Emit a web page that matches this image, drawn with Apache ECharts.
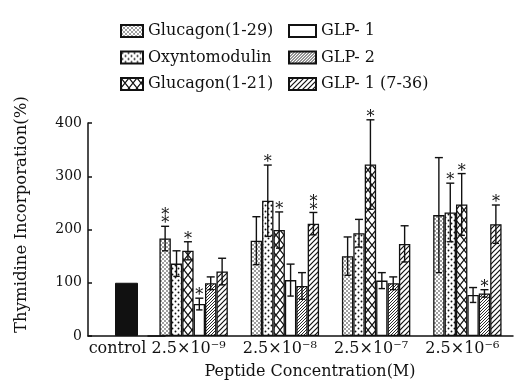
<!DOCTYPE html>
<html><head><meta charset="utf-8">
<script src="https://cdn.jsdelivr.net/npm/echarts@6/dist/echarts.min.js"></script>
<style>html,body{margin:0;padding:0;background:#fff}#c{width:519px;height:385px}</style>
</head><body><div id="c"></div>
<script>
// ---- data ----
const categories = ['2.5×10⁻⁹', '2.5×10⁻⁸', '2.5×10⁻⁷', '2.5×10⁻⁶'];
const controlLabel = ['control'];
const controlValue = [100];
const seriesNames = ['Glucagon(1-29)', 'Oxyntomodulin', 'Glucagon(1-21)', 'GLP- 1', 'GLP- 2', 'GLP- 1 (7-36)'];
const glucagon129 = [183, 179, 150, 227];
const glucagon129Err = [23, 45, 36, 108];
const glucagon129Stars = [2, 0, 0, 0];
const oxyntomodulin = [136, 254, 193, 232];
const oxyntomodulinErr = [24, 67, 26, 55];
const oxyntomodulinStars = [0, 1, 0, 1];
const glucagon121 = [160, 199, 322, 247];
const glucagon121Err = [17, 34, 84, 58];
const glucagon121Stars = [1, 1, 1, 1];
const glp1 = [60, 105, 104, 77];
const glp1Err = [11, 30, 15, 14];
const glp1Stars = [1, 0, 0, 0];
const glp2 = [99, 94, 99, 80];
const glp2Err = [12, 25, 12, 7];
const glp2Stars = [0, 0, 0, 1];
const glp1736 = [121, 211, 173, 210];
const glp1736Err = [25, 21, 34, 36];
const glp1736Stars = [0, 2, 0, 1];
const yTicks = [0, 100, 200, 300, 400];

const values = [glucagon129, oxyntomodulin, glucagon121, glp1, glp2, glp1736];
const errs = [glucagon129Err, oxyntomodulinErr, glucagon121Err, glp1Err, glp2Err, glp1736Err];
const stars = [glucagon129Stars, oxyntomodulinStars, glucagon121Stars, glp1Stars, glp2Stars, glp1736Stars];

// ---- patterns ----
const INK = '#111';
function tile(w, h, draw) {
  const c = document.createElement('canvas');
  c.width = w; c.height = h;
  const g = c.getContext('2d');
  g.fillStyle = '#fff'; g.fillRect(0, 0, w, h);
  g.fillStyle = INK; g.strokeStyle = INK;
  draw(g, w, h);
  return { image: c, repeat: 'repeat' };
}
function dot(g, x, y, r) { g.beginPath(); g.arc(x, y, r, 0, Math.PI * 2); g.fill(); }
function diag(g, s, lw) {
  g.lineWidth = lw;
  g.beginPath();
  g.moveTo(-1, s + 1); g.lineTo(s + 1, -1);
  g.moveTo(-1, 1); g.lineTo(1, -1);
  g.moveTo(s - 1, s + 1); g.lineTo(s + 1, s - 1);
  g.stroke();
}
const patterns = [
  tile(4, 4, (g) => { dot(g, 1, 1, 0.75); dot(g, 3, 3, 0.75); }),
  tile(6, 6, (g) => { dot(g, 1.5, 1.5, 0.95); dot(g, 4.5, 4.5, 0.95); }),
  tile(8, 10, (g, w, h) => {
    g.lineWidth = 1.2; g.beginPath();
    g.moveTo(0, 0); g.lineTo(w, h); g.moveTo(w, 0); g.lineTo(0, h); g.stroke();
  }),
  '#fff',
  tile(3, 3, (g) => diag(g, 3, 0.9)),
  tile(5, 5, (g) => diag(g, 5, 1.2))
];

const FONT = 'DejaVu Serif';
const BAR_W = 11.4;
const CAP = 4;

function errRender(si) {
  return function (params, api) {
    const cat = api.value(0), v = api.value(1), e = api.value(2), n = api.value(3);
    const x = api.coord([cat, v])[0] + (si - 2.5) * BAR_W;
    const yTop = api.coord([cat, v + e])[1];
    const yBot = api.coord([cat, v - e])[1];
    const st = { stroke: INK, lineWidth: 1.4 };
    const children = [
      { type: 'line', shape: { x1: x, y1: yBot, x2: x, y2: yTop }, style: st },
      { type: 'line', shape: { x1: x - CAP, y1: yTop, x2: x + CAP, y2: yTop }, style: st },
      { type: 'line', shape: { x1: x - CAP * 0.8, y1: yBot, x2: x + CAP * 0.8, y2: yBot }, style: st }
    ];
    for (let k = 0; k < n; k++) {
      children.push({
        type: 'text',
        style: { text: '*', x: x, y: yTop + 6 - k * 8, textAlign: 'center', textVerticalAlign: 'bottom',
          font: '16px "' + FONT + '"', fill: INK }
      });
    }
    return { type: 'group', children: children };
  };
}

const series = [{
  type: 'bar', name: 'control', xAxisIndex: 0, yAxisIndex: 0, data: controlValue,
  barWidth: 23, itemStyle: { color: INK, borderColor: INK, borderWidth: 1 }, z: 2
}];
values.forEach((arr, si) => {
  series.push({
    type: 'bar', name: seriesNames[si], xAxisIndex: 1, yAxisIndex: 1, data: arr,
    barWidth: BAR_W, barGap: '0%',
    itemStyle: { color: patterns[si], borderColor: INK, borderWidth: 1.3 }, z: 2
  });
});
values.forEach((arr, si) => {
  series.push({
    type: 'custom', xAxisIndex: 1, yAxisIndex: 1, z: 5, silent: true,
    renderItem: errRender(si),
    data: arr.map((v, i) => [i, v, errs[si][i], stars[si][i]])
  });
});

const axisText = { color: INK, fontFamily: FONT, fontSize: 16 };
const legendText = { color: INK, fontFamily: FONT, fontSize: 16, lineHeight: 18 };
const option = {
  backgroundColor: '#fff',
  animation: false,
  legend: [
    { data: seriesNames.slice(0, 3), orient: 'vertical', left: 115, top: 17, itemWidth: 22, itemHeight: 12,
      itemGap: 8.5, icon: 'rect', textStyle: legendText },
    { data: seriesNames.slice(3), orient: 'vertical', left: 283, top: 17, itemWidth: 27, itemHeight: 12,
      itemGap: 8.5, icon: 'rect', textStyle: legendText }
  ],
  grid: [
    { left: 88, width: 77, top: 123, bottom: 49 },
    { left: 148, right: 6, top: 123, bottom: 49 }
  ],
  xAxis: [
    { type: 'category', gridIndex: 0, data: controlLabel,
      axisLine: { lineStyle: { color: INK, width: 1.5 } }, axisTick: { show: false },
      axisLabel: Object.assign({ margin: 5, interval: 0, padding: [0, 18, 0, 0] }, axisText) },
    { type: 'category', gridIndex: 1, data: categories,
      axisLine: { lineStyle: { color: INK, width: 1.5 } }, axisTick: { show: false },
      axisLabel: Object.assign({ margin: 5, interval: 0, hideOverlap: false, padding: [0, 10, 0, 0] }, axisText),
      name: 'Peptide Concentration(M)', nameLocation: 'middle', nameGap: 28,
      nameTextStyle: Object.assign({ padding: [0, 41, 0, 0] }, axisText) }
  ],
  yAxis: [
    { type: 'value', gridIndex: 0, min: yTicks[0], max: yTicks[yTicks.length - 1], interval: 100,
      axisLine: { show: true, lineStyle: { color: INK, width: 1.5 } },
      axisTick: { show: true, inside: true, length: 4, lineStyle: { color: INK, width: 1.5 } },
      splitLine: { show: false },
      axisLabel: { color: INK, fontFamily: FONT, fontSize: 14, margin: 6 },
      name: 'Thymidine Incorporation(%)', nameLocation: 'middle', nameGap: 58,
      nameTextStyle: { color: INK, fontFamily: FONT, fontSize: 16.5, padding: [0, 0, 0, 30] } },
    { type: 'value', gridIndex: 1, min: yTicks[0], max: yTicks[yTicks.length - 1], interval: 100, show: false,
      splitLine: { show: false } }
  ],
  series: series
};
const chart = echarts.init(document.getElementById('c'), null, { renderer: 'canvas' });
chart.setOption(option);
</script></body></html>
